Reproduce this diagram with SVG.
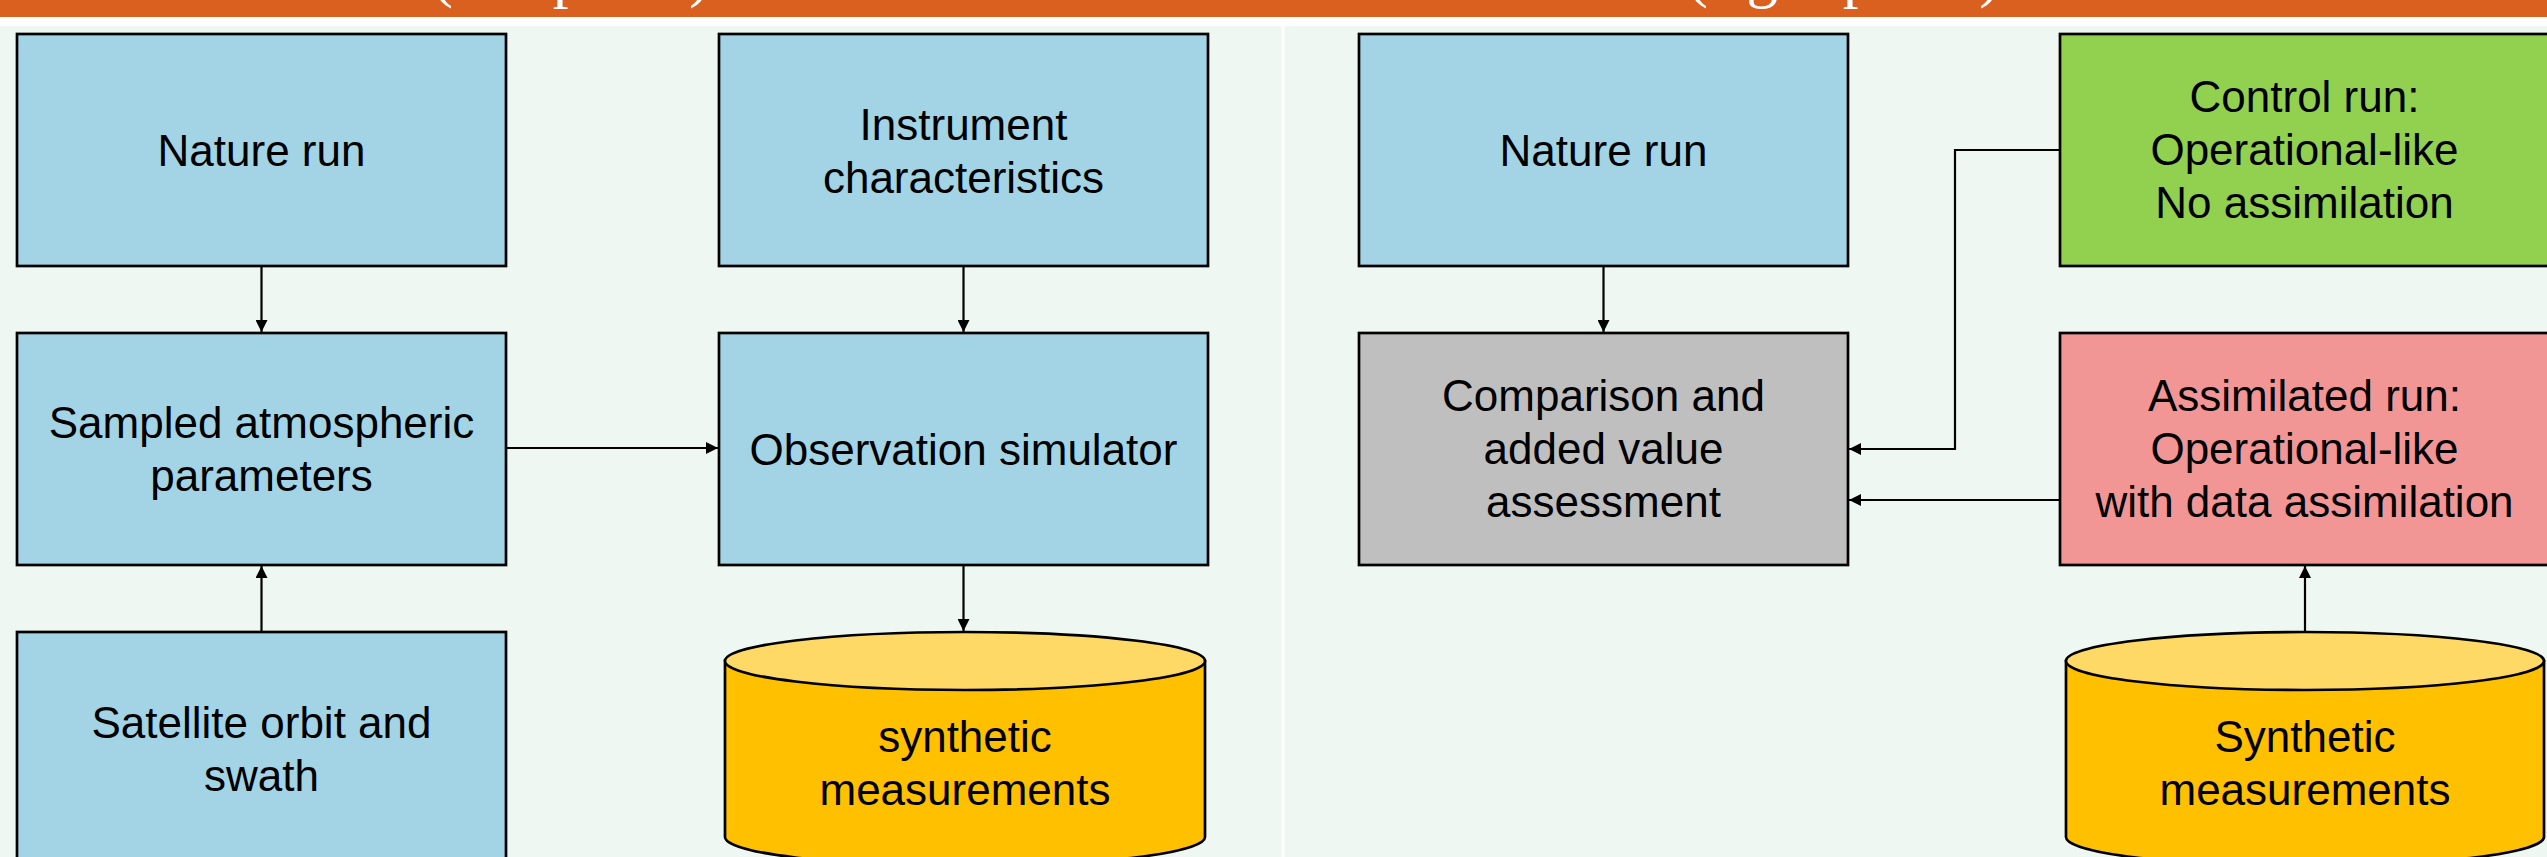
<svg xmlns="http://www.w3.org/2000/svg" width="2547" height="857" viewBox="0 0 2547 857">
  <style>
    .box { stroke: #000; stroke-width: 2.7; }
    .blue { fill: #A2D4E6; }
    .green { fill: #92D050; }
    .pink { fill: #F29595; }
    .grey { fill: #BFBFBF; }
    .body { fill: #FFC000; stroke: #000; stroke-width: 2.7; }
    .lid { fill: #FFD966; stroke: #000; stroke-width: 2.7; }
    .lbl { font-family: "Liberation Sans", Arial, sans-serif; font-size: 44px; fill: #000; text-anchor: middle; }
    .title { font-family: "Liberation Serif", "Times New Roman", serif; font-size: 63px; fill: #fff; }
    .conn { fill: none; stroke: #000; stroke-width: 2.2; marker-end: url(#arrow); }
  </style>
  <defs>
    <marker id="arrow" viewBox="0 0 10 10" refX="10" refY="5" markerUnits="userSpaceOnUse" markerWidth="13" markerHeight="12" orient="auto">
      <path d="M0,0 L10,5 L0,10 Z" fill="#000"/>
    </marker>
    <clipPath id="band">
      <rect x="0" y="0" width="2547" height="17"/>
    </clipPath>
  </defs>

  <!-- page background -->
  <rect x="0" y="0" width="2547" height="857" fill="#EEF7F1"/>
  <rect x="0" y="17" width="2547" height="9" fill="#fff"/>
  <rect x="1281.5" y="17" width="3" height="840" fill="#fff"/>

  <!-- title band -->
  <g id="title">
    <rect x="0" y="0" width="2547" height="17" fill="#DA601F"/>
    <g clip-path="url(#band)">
      <text class="title" x="432" y="-5.5">(left panel)</text>
      <text class="title" x="1687" y="-5.5">(right panel)</text>
    </g>
  </g>

  <!-- left panel: observation simulation chain -->
  <g id="nature-run-left">
    <rect class="box blue" x="17" y="34" width="489" height="232"/>
    <text class="lbl" x="261.5" y="166">Nature run</text>
  </g>
  <g id="instrument">
    <rect class="box blue" x="719" y="34" width="489" height="232"/>
    <text class="lbl" x="963.5" y="139.5">Instrument</text>
    <text class="lbl" x="963.5" y="192.5">characteristics</text>
  </g>
  <g id="sampled">
    <rect class="box blue" x="17" y="333" width="489" height="232"/>
    <text class="lbl" x="261.5" y="437.5">Sampled atmospheric</text>
    <text class="lbl" x="261.5" y="490.5">parameters</text>
  </g>
  <g id="obs-simulator">
    <rect class="box blue" x="719" y="333" width="489" height="232"/>
    <text class="lbl" x="963.5" y="465">Observation simulator</text>
  </g>
  <g id="orbit">
    <rect class="box blue" x="17" y="632" width="489" height="240"/>
    <text class="lbl" x="261.5" y="738">Satellite orbit and</text>
    <text class="lbl" x="261.5" y="791">swath</text>
  </g>
  <g id="synthetic-left">
    <path class="body" d="M725,661 L725,837 A240,29 0 0 0 1205,837 L1205,661 Z"/>
    <ellipse class="lid" cx="965" cy="661" rx="240" ry="29"/>
    <text class="lbl" x="965" y="752">synthetic</text>
    <text class="lbl" x="965" y="805">measurements</text>
  </g>

  <!-- right panel: impact assessment -->
  <g id="nature-run-right">
    <rect class="box blue" x="1359" y="34" width="489" height="232"/>
    <text class="lbl" x="1603.5" y="166">Nature run</text>
  </g>
  <g id="control-run">
    <rect class="box green" x="2060" y="34" width="489" height="232"/>
    <text class="lbl" x="2304.5" y="112">Control run:</text>
    <text class="lbl" x="2304.5" y="165">Operational-like</text>
    <text class="lbl" x="2304.5" y="218">No assimilation</text>
  </g>
  <g id="comparison">
    <rect class="box grey" x="1359" y="333" width="489" height="232"/>
    <text class="lbl" x="1603.5" y="411">Comparison and</text>
    <text class="lbl" x="1603.5" y="464">added value</text>
    <text class="lbl" x="1603.5" y="517">assessment</text>
  </g>
  <g id="assimilated-run">
    <rect class="box pink" x="2060" y="333" width="489" height="232"/>
    <text class="lbl" x="2304.5" y="411">Assimilated run:</text>
    <text class="lbl" x="2304.5" y="464">Operational-like</text>
    <text class="lbl" x="2304.5" y="517">with data assimilation</text>
  </g>
  <g id="synthetic-right">
    <path class="body" d="M2066,661 L2066,837 A239,29 0 0 0 2544,837 L2544,661 Z"/>
    <ellipse class="lid" cx="2305" cy="661" rx="239" ry="29"/>
    <text class="lbl" x="2305" y="752">Synthetic</text>
    <text class="lbl" x="2305" y="805">measurements</text>
  </g>

  <!-- connectors -->
  <g id="connectors">
    <path class="conn" d="M261.5,266 V332"/>
    <path class="conn" d="M963.5,266 V332"/>
    <path class="conn" d="M506,448 H718"/>
    <path class="conn" d="M261.5,632 V566"/>
    <path class="conn" d="M963.5,565 V631"/>
    <path class="conn" d="M1603.5,266 V332"/>
    <path class="conn" d="M2060,150 H1955 V449 H1849"/>
    <path class="conn" d="M2060,500 H1849"/>
    <path class="conn" d="M2305,632 V566"/>
  </g>
</svg>
